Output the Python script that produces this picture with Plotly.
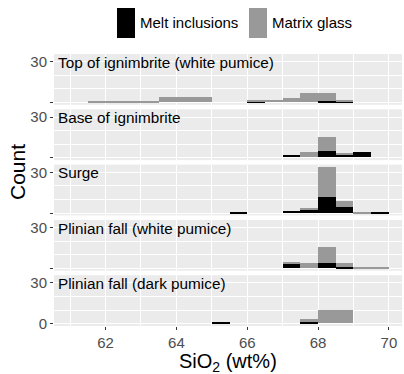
import plotly.graph_objects as go
from plotly.subplots import make_subplots

# ---- data -------------------------------------------------------------
bin_left = [61.5, 62.0, 62.5, 63.0, 63.5, 64.0, 64.5, 65.0, 65.5,
            66.0, 66.5, 67.0, 67.5, 68.0, 68.5, 69.0, 69.5]
bin_width = 0.5

panels = ["Top of ignimbrite (white pumice)", "Base of ignimbrite", "Surge",
          "Plinian fall (white pumice)", "Plinian fall (dark pumice)"]

melt_top   = [0, 0, 0, 0, 0, 0, 0, 0, 0, 1, 0, 0, 0, 1, 1, 0, 0]
matrix_top = [1, 1, 1, 1, 4, 4, 4, 0, 0, 1, 2, 3, 7, 6, 1, 0, 0]
melt_base   = [0, 0, 0, 0, 0, 0, 0, 0, 0, 0, 0, 2, 0, 5, 2, 4, 0]
matrix_base = [0, 0, 0, 0, 0, 0, 0, 0, 0, 0, 0, 0, 4, 10, 1, 0, 0]
melt_surge   = [0, 0, 0, 0, 0, 0, 0, 0, 1, 0, 0, 2, 3, 12, 5, 0, 1]
matrix_surge = [0, 0, 0, 0, 0, 0, 0, 0, 0, 0, 0, 0, 1, 22, 4, 1, 0]
melt_pw   = [0, 0, 0, 0, 0, 0, 0, 0, 0, 0, 0, 3, 0, 4, 1, 0, 0]
matrix_pw = [0, 0, 0, 0, 0, 0, 0, 0, 0, 0, 0, 2, 4, 12, 3, 1, 1]
melt_pd   = [0, 0, 0, 0, 0, 0, 0, 1, 0, 0, 0, 0, 1, 0, 0, 0, 0]
matrix_pd = [0, 0, 0, 0, 0, 0, 0, 0, 0, 0, 0, 0, 2, 10, 10, 0, 0]

melt_all = [melt_top, melt_base, melt_surge, melt_pw, melt_pd]
matrix_all = [matrix_top, matrix_base, matrix_surge, matrix_pw, matrix_pd]

series_names = ["Melt inclusions", "Matrix glass"]
series_colors = ["#000000", "#999999"]

x_ticks = [62, 64, 66, 68, 70]
y_ticks = [0, 30]
# ----------------------------------------------------------------------

FONT = "Liberation Sans, Arial, sans-serif"
W, H = 404, 374
ML, MR, MT, MB = 54, 2, 54, 48
PW = W - ML - MR
PH = H - MT - MB
GAP = 4.5

centers = [b + bin_width / 2 for b in bin_left]

fig = make_subplots(rows=5, cols=1, shared_xaxes=True,
                    vertical_spacing=GAP / PH)

for i in range(5):
    for vals, name, col in zip([melt_all[i], matrix_all[i]], series_names, series_colors):
        fig.add_trace(go.Bar(x=centers, y=vals, width=bin_width, name=name,
                             marker=dict(color=col, line=dict(width=0)),
                             showlegend=False), row=i + 1, col=1)

for i in range(5):
    last = (i == 4)
    fig.update_yaxes(
        range=[-1.7, 35.7], tickvals=y_ticks,
        ticktext=["0" if last else "", "30"],
        ticks="outside", ticklen=3, tickcolor="#333333", tickwidth=1,
        tickfont=dict(family=FONT, size=15, color="#4d4d4d"),
        showgrid=True, gridcolor="white", gridwidth=1.1, zeroline=False,
        minor=dict(tickvals=[10, 20], showgrid=True, gridcolor="white",
                   gridwidth=0.55, ticks=""),
        showline=False, fixedrange=True,
        row=i + 1, col=1)
    fig.update_xaxes(
        range=[60.545, 70.37], tickvals=x_ticks,
        ticks="outside" if last else "", ticklen=3, tickcolor="#333333", tickwidth=1,
        showticklabels=last,
        tickfont=dict(family=FONT, size=15, color="#4d4d4d"),
        showgrid=True, gridcolor="white", gridwidth=1.1, zeroline=False,
        minor=dict(tickvals=[61, 63, 65, 67, 69], showgrid=True, gridcolor="white",
                   gridwidth=0.55, ticks=""),
        showline=False,
        row=i + 1, col=1)

annotations = []
for i, lab in enumerate(panels):
    ax = "" if i == 0 else str(i + 1)
    annotations.append(dict(text=lab, xref=f"x{ax} domain", yref=f"y{ax} domain",
                            x=0.005, y=0.84, xanchor="left", yanchor="middle",
                            showarrow=False,
                            font=dict(family=FONT, size=15.3, color="black")))

def px(sx):
    return (sx - ML) / PW

def py(sy):
    return (H - MB - sy) / PH

# axis titles
annotations.append(dict(text="SiO<sub>2</sub> (wt%)", xref="paper", yref="paper",
                        x=px(ML + PW / 2), y=py(362), xanchor="center", yanchor="middle",
                        showarrow=False, font=dict(family=FONT, size=20, color="black")))
annotations.append(dict(text="Count", xref="paper", yref="paper",
                        x=px(17), y=py(172), xanchor="center", yanchor="middle",
                        textangle=-90, showarrow=False,
                        font=dict(family=FONT, size=21, color="black")))

# legend (drawn as keys + labels)
shapes = []
legend_items = [(117, series_colors[0], series_names[0]),
                (249, series_colors[1], series_names[1])]
for kx, col, name in legend_items:
    shapes.append(dict(type="rect", xref="paper", yref="paper",
                       x0=px(kx), x1=px(kx + 18), y0=py(38), y1=py(8),
                       fillcolor=col, line=dict(width=0)))
    annotations.append(dict(text=name, xref="paper", yref="paper",
                            x=px(kx + 21), y=py(23), xanchor="left", yanchor="middle",
                            showarrow=False, font=dict(family=FONT, size=15, color="black")))

fig.update_layout(
    width=W, height=H, barmode="stack", bargap=0,
    margin=dict(l=ML, r=MR, t=MT, b=MB),
    paper_bgcolor="white", plot_bgcolor="#EBEBEB",
    font=dict(family=FONT),
    annotations=annotations, shapes=shapes,
    showlegend=False,
)

fig.write_html("out.html")
